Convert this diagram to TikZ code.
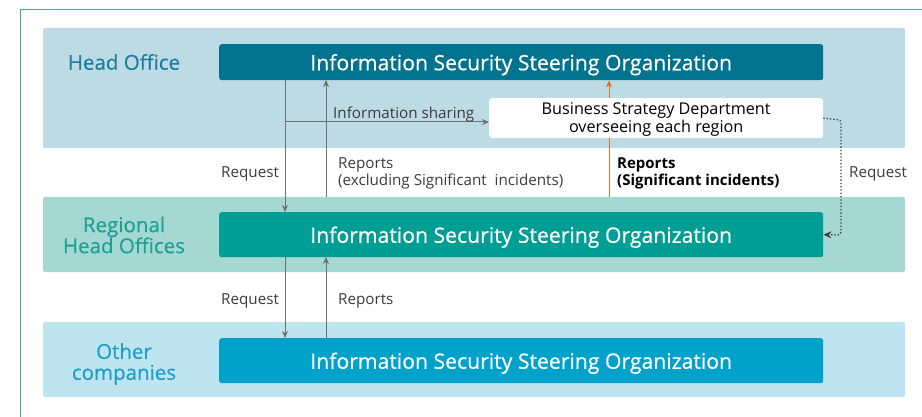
\documentclass[tikz,border=0pt]{standalone}
\usepackage{fontspec}
\setmainfont{Open Sans}
\newfontfamily\medfont[FakeBold=0.5]{Open Sans}
\usetikzlibrary{arrows.meta}
\definecolor{hoband}{HTML}{BDDBE5}
\definecolor{rgband}{HTML}{A5D8D3}
\definecolor{otband}{HTML}{BEE4F0}
\definecolor{hobox}{HTML}{00738F}
\definecolor{rgbox}{HTML}{009E94}
\definecolor{otbox}{HTML}{00A1CA}
\definecolor{holab}{HTML}{1F7EA0}
\definecolor{rglab}{HTML}{1CA193}
\definecolor{otlab}{HTML}{1D9FCA}
\definecolor{framec}{HTML}{4C9CB2}
\definecolor{arrc}{HTML}{6E6E6E}
\definecolor{orng}{HTML}{E0702A}
\definecolor{txtc}{HTML}{3C3C3C}
\newcommand{\orgtxt}{\raisebox{-2.5pt}[\height][\depth]{Information Security Steering Organization}}
\tikzset{
  band/.style={fill=#1, draw=none, rounded corners=2pt},
  orgbox/.style={fill=#1, draw=none, rounded corners=2.5pt, text=white, font=\medfont\fontsize{21.2}{24}\selectfont, inner sep=0pt},
  sidelab/.style={text=#1, font=\medfont\fontsize{20.5}{21}\selectfont, align=center},
  conn/.style={draw=arrc, line width=1pt, -{Stealth[length=7pt,width=6pt]}},
  lab/.style={text=txtc, font=\fontsize{15.2}{17}\selectfont, inner sep=0pt},
}
\begin{document}
\begin{tikzpicture}[x=1pt,y=-1pt]
\useasboundingbox (0,0) rectangle (922,417);
\fill[white] (0,0) rectangle (922,417);
% frame
\draw[framec, line width=1pt] (20,417) -- (20,10) -- (922,10);
% bands
\path[band=hoband] (43,28) rectangle (905,148);
\path[band=rgband] (43,197) rectangle (905,272);
\path[band=otband] (43,322) rectangle (905,397);
% side labels
\node[sidelab=holab] (lho) at (124,62) {Head Office};
\node[sidelab=rglab] (lrg) at (124,235) {Regional\\Head Offices};
\node[sidelab=otlab] (lot) at (124,364) {Other\\companies};
% org boxes
\node[orgbox=hobox, minimum width=604pt, minimum height=36pt, anchor=north west] (ho) at (219,44) {\orgtxt};
\node[orgbox=rgbox, minimum width=604pt, minimum height=45pt, anchor=north west] (rg) at (219,212) {\orgtxt};
\node[orgbox=otbox, minimum width=604pt, minimum height=45pt, anchor=north west] (ot) at (219,338) {\orgtxt};
% business strategy box
\node[fill=white, rounded corners=3pt, minimum width=334pt, minimum height=40pt, anchor=north west, align=center, inner sep=0pt, text=black, font=\fontsize{16.2}{18}\selectfont] (bs) at (489,98) {\rule{0pt}{15pt}Business Strategy Department\\overseeing each region};
% coordinates
\coordinate (rqtop) at (285,80);
\coordinate (rqbot) at (285,212);
\coordinate (rptop) at (326,80);
\coordinate (rpbot) at (326,197);
\coordinate (ish) at (285,122);
\coordinate (orb) at (609,197);
\coordinate (r2top) at (285,257);
\coordinate (r2bot) at (285,338);
\coordinate (p2top) at (326,257);
\coordinate (p2bot) at (326,338);
% connectors
\draw[conn] (rqtop) -- (rqbot);
\draw[conn] (rpbot) -- (rptop);
\draw[conn] (ish) -- (bs.west |- ish);
\draw[draw=orng, line width=1pt] (orb) -- (orb |- bs.south);
\draw[draw=orng, line width=1pt, -{Stealth[length=7pt,width=6pt]}] (orb |- bs.north) -- (orb |- ho.south);
\draw[draw=txtc, line width=1.3pt, dotted, rounded corners=3pt, -{Stealth[length=8pt,width=7pt]}] (bs.east) -- (841,120) -- (841,235) -- (rg.east);
\draw[conn] (r2top) -- (r2bot);
\draw[conn] (p2bot) -- (p2top);
% labels
\node[lab, anchor=west] (tish) at (333,115) {Information sharing};
\node[lab, anchor=west] (treq1) at (221,174) {Request};
\node[lab, anchor=north west, align=left] (trep1) at (338,157.5) {Reports\\(excluding Significant\ \ incidents)};
\node[lab, anchor=north west, align=left, text=black, font=\fontsize{15}{17}\selectfont\bfseries] (trep2) at (617,157.5) {Reports\\(Significant incidents)};
\node[lab, anchor=west] (treq2) at (849,174) {Request};
\node[lab, anchor=west] (treq3) at (221,301) {Request};
\node[lab, anchor=west] (trep3) at (338,301) {Reports};
\end{tikzpicture}
\end{document}
